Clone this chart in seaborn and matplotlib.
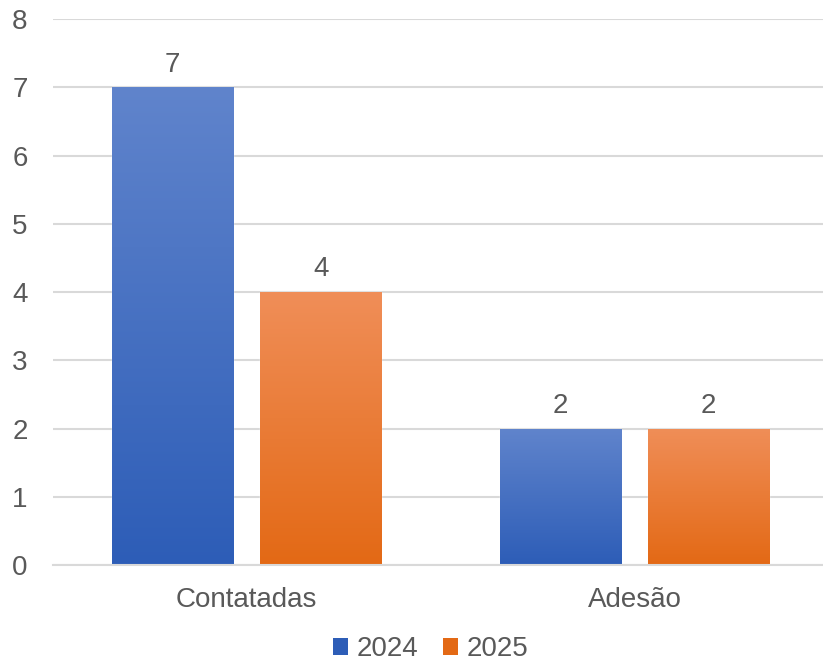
import numpy as np
import pandas as pd
import seaborn as sns
import matplotlib.pyplot as plt
from matplotlib.colors import LinearSegmentedColormap
from matplotlib.patches import Patch

# Dados do gráfico
categorias = ["Contatadas", "Adesão"]
anos = ["2024", "2025"]
valores_2024 = [7, 2]
valores_2025 = [4, 2]

# Cores em gradiente (topo, base)
grad_cores = {"2024": ("#6084CC", "#2D5DB7"), "2025": ("#F08E58", "#E36915")}
cor_texto = "#595959"

df = pd.DataFrame({
    "Categoria": categorias * 2,
    "Ano": [anos[0]] * 2 + [anos[1]] * 2,
    "Valor": valores_2024 + valores_2025,
})

sns.set_style("white")
plt.rcParams["font.family"] = ["Liberation Sans", "DejaVu Sans"]

fig = plt.figure(figsize=(8.23, 6.64), dpi=100)
ax = fig.add_axes([0.064, 0.149, 0.943, 0.822])

paleta = {a: grad_cores[a][1] for a in anos}
sns.barplot(data=df, x="Categoria", y="Valor", hue="Ano", palette=paleta,
            width=0.763, gap=0.18, ax=ax, legend=False, saturation=1)

# gradiente vertical em cada barra
for cont, ano in zip(ax.containers, anos):
    cmap = LinearSegmentedColormap.from_list(ano, [grad_cores[ano][1], grad_cores[ano][0]])
    for barra in cont:
        x0, y0 = barra.get_x(), barra.get_y()
        w, h = barra.get_width(), barra.get_height()
        grad = np.linspace(0, 1, 256).reshape(-1, 1)
        img = ax.imshow(grad, cmap=cmap, origin="lower", aspect="auto",
                        extent=[x0, x0 + w, y0, y0 + h], zorder=barra.get_zorder() + 0.1)
        img.set_clip_path(barra)
    ax.bar_label(cont, fmt="%d", padding=7, fontsize=20, color=cor_texto)

ax.set_xlim(-0.5, 1.5)
ax.set_ylim(0, 8)
ax.set_yticks(range(0, 9))
ax.yaxis.grid(True, color="#D9D9D9", linewidth=1.5)
ax.set_axisbelow(True)
for lado in ["top", "right", "left"]:
    ax.spines[lado].set_visible(False)
ax.spines["bottom"].set_color("#D9D9D9")
ax.spines["bottom"].set_linewidth(1.5)
ax.tick_params(axis="y", length=0, pad=18, labelsize=20, labelcolor=cor_texto)
ax.tick_params(axis="x", length=0, pad=16, labelsize=20, labelcolor=cor_texto)
ax.set_xlabel("")
ax.set_ylabel("")

handles = [Patch(facecolor=grad_cores[a][1], edgecolor="none") for a in anos]
fig.legend(handles, anos, loc="lower center", bbox_to_anchor=(0.523, -0.035), ncol=2,
           frameon=False, fontsize=20, labelcolor=cor_texto, handlelength=0.55,
           handleheight=0.55, handletextpad=0.3, columnspacing=0.9)

fig.savefig("out.png", dpi=100)
